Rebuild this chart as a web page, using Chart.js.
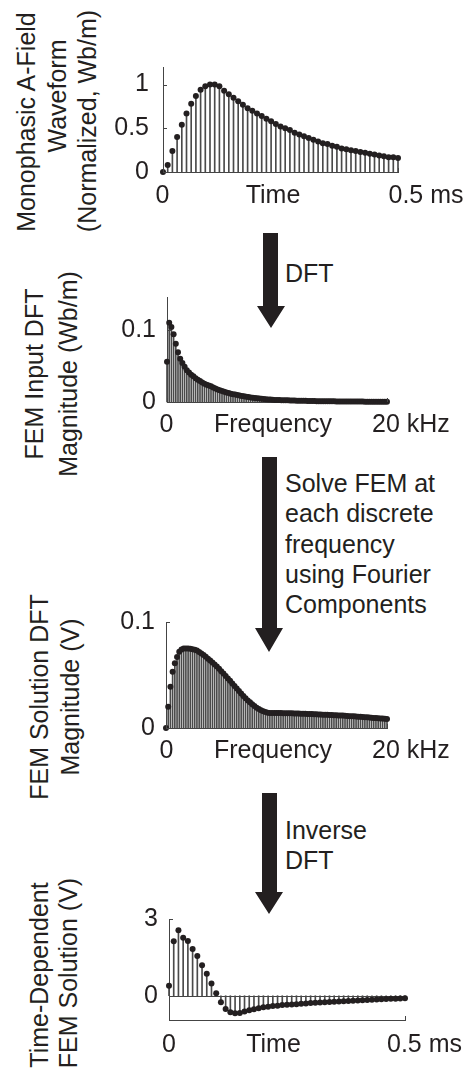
<!DOCTYPE html>
<html>
<head>
<meta charset="utf-8">
<script src="https://cdn.jsdelivr.net/npm/chart.js@4.4.1/dist/chart.umd.min.js"></script>
<style>
  html, body { margin: 0; padding: 0; background: #fff; }
  #fig {
    position: relative; width: 473px; height: 1071px; overflow: hidden;
    font-family: "Liberation Sans", Arial, sans-serif; color: #231f20;
  }
  #fig canvas { position: absolute; left: 100px; }
  .ylab {
    position: absolute; font-size: 25px; line-height: 30px; white-space: nowrap;
    transform: translate(-50%, -50%) rotate(-90deg);
  }
  .note { position: absolute; left: 285px; font-size: 25px; line-height: 30.3px; white-space: nowrap; }
  #arrows { position: absolute; left: 0; top: 0; z-index: 5; }
</style>
</head>
<body>
<div id="fig">
  <!-- y axis labels (rotated) -->
  <div class="ylab" style="left:26.3px; top:122px;">Monophasic A-Field</div>
  <div class="ylab" style="left:57.3px; top:96px;">Waveform</div>
  <div class="ylab" style="left:87.3px; top:121px;">(Normalized, Wb/m)</div>

  <div class="ylab" style="left:34.4px; top:374px;">FEM Input DFT</div>
  <div class="ylab" style="left:68.4px; top:374px;">Magnitude (Wb/m)</div>

  <div class="ylab" style="left:39.4px; top:697px;">FEM Solution DFT</div>
  <div class="ylab" style="left:70.4px; top:697px;">Magnitude (V)</div>

  <div class="ylab" style="left:39.4px; top:975px;">Time-Dependent</div>
  <div class="ylab" style="left:68.4px; top:973px;">FEM Solution (V)</div>

  <!-- step notes between the panels -->
  <div class="note" style="top:258.2px;">DFT</div>
  <div class="note" style="top:468.2px;">Solve FEM at<br>each discrete<br>frequency<br>using Fourier<br>Components</div>
  <div class="note" style="top:815.2px;">Inverse<br>DFT</div>

  <canvas id="wave" width="373" height="190" style="top:30px;"></canvas>
  <canvas id="inDft" width="373" height="185" style="top:260px;"></canvas>
  <canvas id="solDft" width="373" height="180" style="top:590px;"></canvas>
  <canvas id="solTime" width="373" height="186" style="top:885px;"></canvas>

  <svg id="arrows" width="473" height="1071">
    <polygon fill="#231f20" points="263,233 278,233 278,306 285,306 271,328 257,306 263,306"/>
    <polygon fill="#231f20" points="262,457 277,457 277,628 283,628 269,652 255,628 262,628"/>
    <polygon fill="#231f20" points="262,793 277,793 277,892 283,892 269,914 255,892 262,892"/>
  </svg>
</div>

<script>
// sample times (ms) and DFT frequencies (kHz)
const timeMs = [0, 0.01, 0.02, 0.03, 0.04, 0.05, 0.06, 0.07, 0.08, 0.09,
  0.1, 0.11, 0.12, 0.13, 0.14, 0.15, 0.16, 0.17, 0.18, 0.19,
  0.2, 0.21, 0.22, 0.23, 0.24, 0.25, 0.26, 0.27, 0.28, 0.29,
  0.3, 0.31, 0.32, 0.33, 0.34, 0.35, 0.36, 0.37, 0.38, 0.39,
  0.4, 0.41, 0.42, 0.43, 0.44, 0.45, 0.46, 0.47, 0.48, 0.49, 0.5];

const freqKHz = [0, 0.2, 0.4, 0.6, 0.8, 1, 1.2, 1.4, 1.6, 1.8,
  2, 2.2, 2.4, 2.6, 2.8, 3, 3.2, 3.4, 3.6, 3.8,
  4, 4.2, 4.4, 4.6, 4.8, 5, 5.2, 5.4, 5.6, 5.8,
  6, 6.2, 6.4, 6.6, 6.8, 7, 7.2, 7.4, 7.6, 7.8,
  8, 8.2, 8.4, 8.6, 8.8, 9, 9.2, 9.4, 9.6, 9.8,
  10, 10.2, 10.4, 10.6, 10.8, 11, 11.2, 11.4, 11.6, 11.8,
  12, 12.2, 12.4, 12.6, 12.8, 13, 13.2, 13.4, 13.6, 13.8,
  14, 14.2, 14.4, 14.6, 14.8, 15, 15.2, 15.4, 15.6, 15.8,
  16, 16.2, 16.4, 16.6, 16.8, 17, 17.2, 17.4, 17.6, 17.8,
  18, 18.2, 18.4, 18.6, 18.8, 19, 19.2, 19.4, 19.6, 19.8, 20];

// monophasic A-field waveform (normalized)
const waveform = [0, 0.08, 0.24, 0.40, 0.54, 0.67, 0.78, 0.87, 0.94, 0.98,
  1.0, 1.0, 0.98, 0.93, 0.89, 0.85, 0.81, 0.77, 0.73, 0.70,
  0.67, 0.64, 0.61, 0.58, 0.55, 0.52, 0.50, 0.48, 0.45, 0.43,
  0.41, 0.39, 0.37, 0.35, 0.33, 0.32, 0.30, 0.29, 0.27, 0.26,
  0.25, 0.24, 0.23, 0.22, 0.21, 0.20, 0.19, 0.18, 0.17, 0.17, 0.16];

// FEM input DFT magnitude (Wb/m)
const inputDft = [0.056, 0.110, 0.104, 0.094, 0.081, 0.069, 0.060, 0.054, 0.049, 0.044,
  0.041, 0.038, 0.0356, 0.033, 0.031, 0.029, 0.027, 0.0255, 0.024, 0.0228,
  0.0218, 0.0203, 0.0189, 0.0175, 0.0162, 0.0152, 0.0142, 0.0133, 0.0124, 0.0116,
  0.0109, 0.0103, 0.0097, 0.0090, 0.0084, 0.0079, 0.0074, 0.0069, 0.0064, 0.0059,
  0.0055, 0.0051, 0.0048, 0.0045, 0.0042, 0.0039, 0.0036, 0.0033, 0.0031, 0.0029,
  0.0028, 0.0027, 0.0026, 0.0025, 0.0024, 0.0023, 0.0022, 0.0021, 0.0020, 0.0019,
  0.0018, 0.0017, 0.0016, 0.0016, 0.0015, 0.0014, 0.0014, 0.0013, 0.0012, 0.0012,
  0.0011, 0.0011, 0.0010, 0.0010, 0.0009, 0.0009, 0.0009, 0.0008, 0.0008, 0.0008,
  0.0007, 0.0007, 0.0007, 0.0007, 0.0006, 0.0006, 0.0006, 0.0006, 0.0006, 0.0006,
  0.0005, 0.0005, 0.0005, 0.0005, 0.0005, 0.0005, 0.0005, 0.0005, 0.0005, 0.0005, 0.0005];

// FEM solution DFT magnitude (V)
const solutionDft = [0, 0.020, 0.039, 0.053, 0.061, 0.067, 0.072, 0.074, 0.075, 0.075,
  0.075, 0.0748, 0.0744, 0.0738, 0.073, 0.0716, 0.0703, 0.0688, 0.0672, 0.0653,
  0.0637, 0.0618, 0.060, 0.058, 0.056, 0.0536, 0.0514, 0.049, 0.0467, 0.0445,
  0.042, 0.0397, 0.0372, 0.035, 0.0325, 0.0303, 0.028, 0.026, 0.0243, 0.0224,
  0.0208, 0.0192, 0.018, 0.0167, 0.0158, 0.0151, 0.0145, 0.0142, 0.0142, 0.0142,
  0.0142, 0.0141, 0.0141, 0.014, 0.014, 0.0139, 0.0139, 0.0138, 0.0137, 0.0137,
  0.0136, 0.0135, 0.0134, 0.0134, 0.0133, 0.0132, 0.0131, 0.013, 0.0129, 0.0128,
  0.0127, 0.0126, 0.0125, 0.0124, 0.0123, 0.0122, 0.0121, 0.012, 0.0119, 0.0118,
  0.0117, 0.0115, 0.0114, 0.0112, 0.0111, 0.011, 0.0108, 0.0107, 0.0105, 0.0104,
  0.0102, 0.0101, 0.0099, 0.0097, 0.0095, 0.0094, 0.0092, 0.009, 0.0089, 0.0087, 0.0085];

// time-dependent FEM solution (V)
const solutionTime = [0.39, 2.13, 2.56, 2.27, 2.14, 1.83, 1.55, 1.19, 0.86, 0.48,
  0.10, -0.26, -0.52, -0.65, -0.69, -0.68, -0.62, -0.57, -0.53, -0.49,
  -0.45, -0.43, -0.40, -0.39, -0.36, -0.35, -0.34, -0.33, -0.31, -0.30,
  -0.29, -0.28, -0.27, -0.26, -0.25, -0.24, -0.23, -0.22, -0.21, -0.20,
  -0.19, -0.18, -0.17, -0.16, -0.15, -0.14, -0.13, -0.12, -0.12, -0.11, -0.10];

// tick values / labels
const waveYTicks = [0, 0.5, 1];
const waveYLabels = ["0", "0.5", "1"];
const dftYTicks = [0, 0.1];
const dftYLabels = ["0", "0.1"];
const solTimeYTicks = [0, 3];
const solTimeYLabels = ["0", "3"];
const timeRowLabels = ["0", "Time", "0.5 ms"];
const freqRowLabels = ["0", "Frequency", "20 kHz"];

const INK = "#231f20";
const STEM = "#4a4a4a";
const AXIS = "#444444";
const FONT = '"Liberation Sans", Arial, sans-serif';

// inward ticks, stem baseline and the label row under each axis
const stemAxesPlugin = {
  id: "stemAxes",
  beforeDatasetsDraw(chart, args, opts) {
    if (!opts.baseline) return;
    const { ctx, chartArea, scales: { y } } = chart;
    const py = Math.round(y.getPixelForValue(0)) + 0.5;
    ctx.save();
    ctx.strokeStyle = AXIS;
    ctx.lineWidth = 1;
    ctx.beginPath();
    ctx.moveTo(chartArea.left, py);
    ctx.lineTo(chartArea.right, py);
    ctx.stroke();
    ctx.restore();
  },
  afterDraw(chart, args, opts) {
    const { ctx, chartArea, scales: { x, y } } = chart;
    ctx.save();
    ctx.strokeStyle = AXIS;
    ctx.lineWidth = 1;
    ctx.beginPath();
    opts.yTicks.forEach((v) => {
      const py = Math.round(y.getPixelForValue(v)) + 0.5;
      ctx.moveTo(chartArea.left, py);
      ctx.lineTo(chartArea.left + 4, py);
    });
    [x.min, x.max].forEach((v) => {
      const px = Math.round(x.getPixelForValue(v)) + 0.5;
      ctx.moveTo(px, chartArea.bottom);
      ctx.lineTo(px, chartArea.bottom - 4);
    });
    ctx.stroke();

    // label row: "0"  name  "end unit"
    ctx.fillStyle = INK;
    ctx.font = "25px " + FONT;
    ctx.textBaseline = "alphabetic";
    const by = chartArea.bottom + opts.rowGap;
    opts.row.forEach((t, i) => {
      ctx.textAlign = opts.rowAlign[i];
      ctx.fillText(t, opts.rowX[i] - 100, by);
    });
    ctx.restore();
  },
};

function makePanel(id, xs, ys, cfg) {
  const points = xs.map((x, i) => ({ x: x, y: ys[i] }));
  return new Chart(document.getElementById(id), {
    type: "bar",
    data: {
      datasets: [
        {
          type: "line",
          data: points,
          showLine: false,
          pointRadius: 3,
          pointBackgroundColor: INK,
          pointBorderWidth: 0,
          clip: false,
          order: 0,
        },
        {
          type: "bar",
          data: points,
          backgroundColor: STEM,
          borderWidth: 0,
          barThickness: 1,
          clip: false,
          order: 1,
        },
      ],
    },
    options: {
      responsive: false,
      animation: false,
      events: [],
      layout: { padding: { left: 0, right: cfg.padRight, top: cfg.padTop, bottom: 0 } },
      plugins: {
        legend: { display: false },
        tooltip: { enabled: false },
        stemAxes: {
          yTicks: cfg.yTicks,
          baseline: cfg.baseline,
          row: cfg.row,
          rowX: cfg.rowX,
          rowAlign: ["center", "center", "left"],
          rowGap: cfg.rowGap,
        },
      },
      scales: {
        x: {
          type: "linear",
          min: xs[0],
          max: xs[xs.length - 1],
          offset: false,
          grid: { display: false, drawTicks: false },
          border: { color: AXIS, width: 1 },
          ticks: { display: false },
          afterFit: (s) => { s.height = cfg.xHeight; },
        },
        y: {
          type: "linear",
          min: cfg.yMin,
          max: cfg.yMax,
          grid: { display: false, drawTicks: false },
          border: { color: AXIS, width: 1 },
          ticks: {
            autoSkip: false,
            color: INK,
            font: { family: FONT, size: 25 },
            padding: cfg.tickPad,
            callback: (v, i) => cfg.yLabels[i],
          },
          afterBuildTicks: (a) => { a.ticks = cfg.yTicks.map((v) => ({ value: v })); },
          afterFit: (s) => { s.width = cfg.yWidth; },
        },
      },
    },
    plugins: [stemAxesPlugin],
  });
}

makePanel("wave", timeMs, waveform, {
  yMin: 0, yMax: 1.2, yTicks: waveYTicks, yLabels: waveYLabels,
  yWidth: 63, xHeight: 48, padRight: 75, padTop: 37, tickPad: 14,
  row: timeRowLabels, rowX: [162.5, 273, 388.5], rowGap: 31,
});

makePanel("inDft", freqKHz, inputDft, {
  yMin: 0, yMax: 0.145, yTicks: dftYTicks, yLabels: dftYLabels,
  yWidth: 67, xHeight: 43, padRight: 86, padTop: 37.6, tickPad: 11,
  row: freqRowLabels, rowX: [166.5, 273, 372], rowGap: 30,
});

makePanel("solDft", freqKHz, solutionDft, {
  yMin: 0, yMax: 0.1, yTicks: dftYTicks, yLabels: dftYLabels,
  yWidth: 66, xHeight: 42, padRight: 86, padTop: 32, tickPad: 11,
  row: freqRowLabels, rowX: [166.5, 273, 372], rowGap: 30,
});

makePanel("solTime", timeMs, solutionTime, {
  yMin: -0.95, yMax: 3, yTicks: solTimeYTicks, yLabels: solTimeYLabels,
  yWidth: 69, xHeight: 51, padRight: 68, padTop: 34, tickPad: 11, baseline: true,
  row: timeRowLabels, rowX: [169, 273.5, 387], rowGap: 32,
});
</script>
</body>
</html>
